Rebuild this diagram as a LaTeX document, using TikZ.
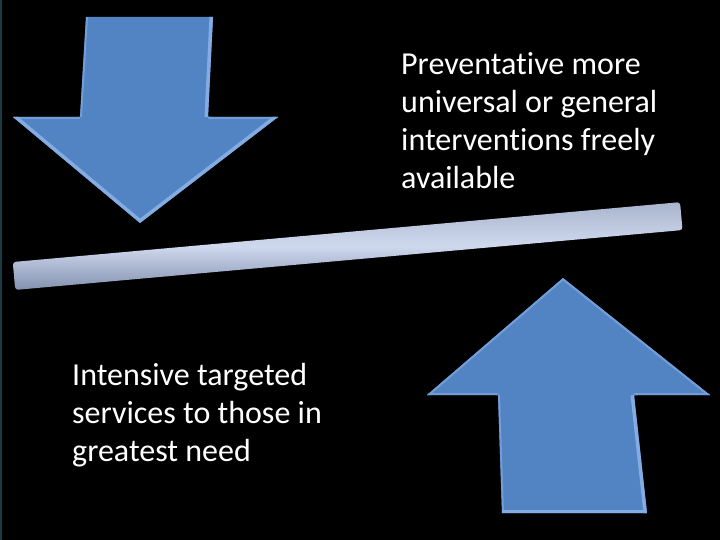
\documentclass[tikz,border=0pt]{standalone}
\usepackage{fontspec}
\setmainfont{Carlito}[Ligatures={NoCommon}]
\definecolor{arrowmain}{HTML}{5283C2}
\definecolor{arrowlight}{HTML}{8CB4E8}
\definecolor{bartop}{HTML}{A9B5CD}
\definecolor{barmid}{HTML}{CFD9EE}
\definecolor{barbot}{HTML}{8492B0}
\definecolor{edgeline}{HTML}{1C3A44}
\tikzset{
  lbl/.style={text=white, align=left, inner sep=0pt, font=\fontsize{32}{38}\selectfont},
  bevel/.style={line width=7pt, draw=arrowlight!85!arrowmain, line join=miter},
  bevelsoft/.style={line width=4pt, draw=arrowlight!55!arrowmain},
}
\begin{document}
\begin{tikzpicture}[x=1pt,y=-1pt]
\useasboundingbox (0,0) rectangle (720,540);
\fill[black] (0,0) rectangle (720,540);
\fill[edgeline] (0,0) rectangle (2,540);

% down arrow
\begin{scope}
\clip (86,17) -- (213,17) -- (208,117) -- (278,117) -- (140,223) -- (13,117) -- (80,117) -- cycle;
\fill[arrowmain] (0,0) rectangle (300,240);
\draw[bevelsoft] (86,17) -- (80,117);
\draw[bevel] (213,17) -- (208,117);
\draw[bevelsoft] (13,117) -- (80,117);
\draw[bevelsoft] (208,117) -- (278,117);
\draw[bevel] (278,117) -- (140,223) -- (13,117);
\end{scope}

% up arrow
\begin{scope}
\clip (563,278) -- (710,395) -- (634,395) -- (647,513) -- (502,513) -- (498,395) -- (427,395) -- cycle;
\fill[arrowmain] (400,260) rectangle (720,540);
\draw[bevelsoft] (427,395) -- (563,278) -- (710,395);
\draw[bevelsoft] (427,395) -- (498,395);
\draw[bevelsoft] (634,395) -- (710,395);
\draw[bevel] (634,395) -- (647,513);
\draw[bevelsoft] (498,395) -- (502,513);
\draw[bevel] (502,513) -- (647,513);
\end{scope}

% bar
\begin{scope}[shift={(14,276)}, rotate=5.13]
\shade[top color=bartop, bottom color=barbot, middle color=barmid, rounded corners=3pt] (0,-14) rectangle (670,14);
\end{scope}

\node[lbl, anchor=north west] (prev) at (401,52) {Preventative more\\universal or general\\interventions freely\\available};
\node[lbl, anchor=north west] (intens) at (72,363) {Intensive targeted\\services to those in\\greatest need};
\end{tikzpicture}
\end{document}
